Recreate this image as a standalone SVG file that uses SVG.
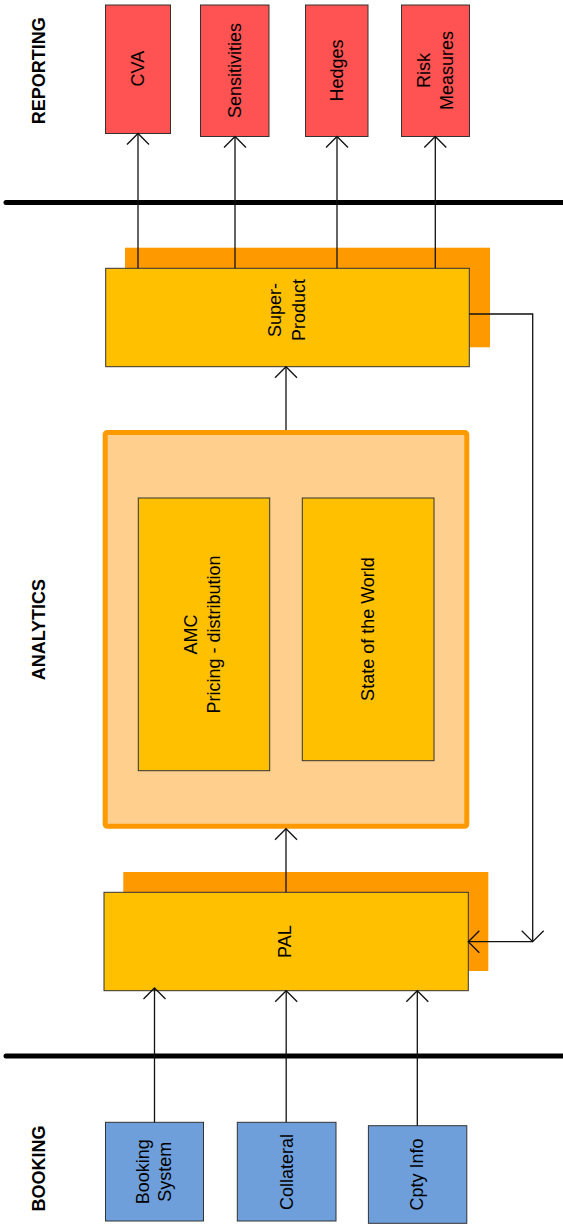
<svg xmlns="http://www.w3.org/2000/svg" width="563" height="1224" viewBox="0 0 563 1224">
<defs>
<style>
.lbl{font-family:"Liberation Sans",Arial,sans-serif;font-size:18px;fill:#000;text-anchor:middle}
.sec{font-family:"Liberation Sans",Arial,sans-serif;font-size:18px;font-weight:bold;fill:#000;text-anchor:middle}
.red{fill:#FF5252;stroke:#333;stroke-width:1}
.yel{fill:#FFC000;stroke:#333;stroke-width:1}
.blu{fill:#6F9FDB;stroke:#333;stroke-width:1}
.back{fill:#FF9900}
.con{fill:none;stroke:#111;stroke-width:1.3}
.bar{stroke:#000;stroke-width:5;stroke-linecap:round}
</style>
<marker id="arr" markerUnits="userSpaceOnUse" markerWidth="24" markerHeight="24" refX="12" refY="12" orient="auto" viewBox="0 0 24 24">
<path d="M1,1 L12,12 L1,23" fill="none" stroke="#111" stroke-width="1.3"/>
</marker>
</defs>

<g id="section-labels">
<text class="sec" transform="translate(44.6,70.8) rotate(-90)">REPORTING</text>
<text class="sec" transform="translate(45.3,629.7) rotate(-90)">ANALYTICS</text>
<text class="sec" transform="translate(44.6,1168.4) rotate(-90)">BOOKING</text>
</g>

<g id="separators">
<line class="bar" x1="6" y1="202.5" x2="570" y2="202.5"/>
<line class="bar" x1="6" y1="1056" x2="570" y2="1056"/>
</g>

<g id="cva">
<rect class="red" x="105.5" y="5" width="65" height="128.5"/>
<text class="lbl" transform="translate(144,68.7) rotate(-90)">CVA</text>
</g>
<g id="sensitivities">
<rect class="red" x="200.5" y="5" width="68.5" height="131.5"/>
<text class="lbl" transform="translate(241.3,70.5) rotate(-90)">Sensitivities</text>
</g>
<g id="hedges">
<rect class="red" x="305.5" y="5" width="62.5" height="131.5"/>
<text class="lbl" transform="translate(343,70.5) rotate(-90)">Hedges</text>
</g>
<g id="risk-measures">
<rect class="red" x="401.5" y="5" width="68" height="131.5"/>
<text class="lbl" transform="translate(429.5,70.5) rotate(-90)"><tspan x="0" y="0">Risk</tspan><tspan x="0" y="23.3">Measures</tspan></text>
</g>

<g id="super-product">
<rect class="back" x="125" y="247.7" width="365" height="99.6"/>
<rect class="yel" x="105.7" y="268.3" width="363.6" height="98.4"/>
<text class="lbl" transform="translate(281.3,310) rotate(-90)"><tspan x="0" y="0">Super-</tspan><tspan x="0" y="23.4">Product</tspan></text>
</g>

<g id="analytics-container">
<rect x="105.2" y="432.5" width="361.6" height="393.7" rx="2" fill="#FFD08D" stroke="#FF9900" stroke-width="5"/>
</g>
<g id="amc">
<rect class="yel" x="138.3" y="498" width="131.4" height="272.7"/>
<text class="lbl" transform="translate(197.3,634.5) rotate(-90)"><tspan x="0" y="0">AMC</tspan><tspan x="0" y="22.4">Pricing - distribution</tspan></text>
</g>
<g id="state-of-the-world">
<rect class="yel" x="302.3" y="498" width="131.7" height="262.7"/>
<text class="lbl" transform="translate(373.5,629) rotate(-90)">State of the World</text>
</g>

<g id="pal">
<rect class="back" x="123.3" y="872" width="365" height="99"/>
<rect class="yel" x="104" y="892.3" width="364.3" height="98.4"/>
<text class="lbl" transform="translate(291.2,941.7) rotate(-90)">PAL</text>
</g>

<g id="booking-system">
<rect class="blu" x="105.5" y="1122.3" width="98" height="98.7"/>
<text class="lbl" transform="translate(149.4,1171.7) rotate(-90)"><tspan x="0" y="0">Booking</tspan><tspan x="0" y="21.8">System</tspan></text>
</g>
<g id="collateral">
<rect class="blu" x="237.3" y="1122.3" width="98.7" height="98.7"/>
<text class="lbl" transform="translate(292.5,1172) rotate(-90)">Collateral</text>
</g>
<g id="cpty-info">
<rect class="blu" x="368.4" y="1125.7" width="98.4" height="97.6"/>
<text class="lbl" transform="translate(422.5,1174.5) rotate(-90)">Cpty Info</text>
</g>

<g id="connectors">
<line class="con" x1="138" y1="268.3" x2="138" y2="133.5" marker-end="url(#arr)"/>
<line class="con" x1="235" y1="268.3" x2="235" y2="136.5" marker-end="url(#arr)"/>
<line class="con" x1="337" y1="268.3" x2="337" y2="136.5" marker-end="url(#arr)"/>
<line class="con" x1="435.3" y1="268.3" x2="435.3" y2="136.5" marker-end="url(#arr)"/>
<line class="con" x1="286" y1="430" x2="286" y2="366.7" marker-end="url(#arr)"/>
<line class="con" x1="286" y1="892.3" x2="286" y2="828.7" marker-end="url(#arr)"/>
<polyline class="con" points="469.3,314 532.7,314 532.7,941.7" marker-end="url(#arr)"/>
<line class="con" x1="532.7" y1="941.7" x2="468.3" y2="941.7" marker-end="url(#arr)"/>
<line class="con" x1="154.5" y1="1122.3" x2="154.5" y2="988" marker-end="url(#arr)"/>
<line class="con" x1="286.2" y1="1122.3" x2="286.2" y2="990.7" marker-end="url(#arr)"/>
<line class="con" x1="417.3" y1="1125.7" x2="417.3" y2="990.7" marker-end="url(#arr)"/>
</g>
</svg>
